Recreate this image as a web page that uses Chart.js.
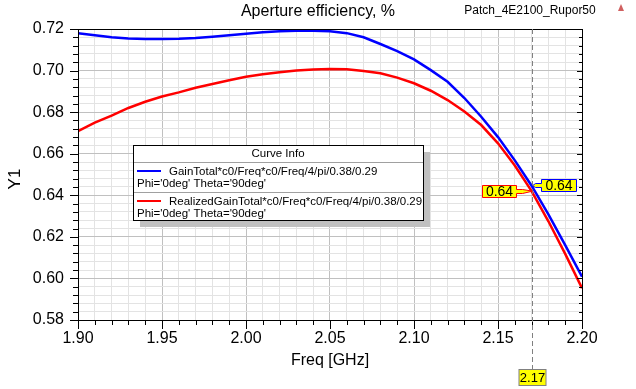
<!DOCTYPE html>
<html>
<head>
<meta charset="utf-8">
<script src="https://cdn.jsdelivr.net/npm/chart.js@4/dist/chart.umd.min.js"></script>
<style>
  html, body { margin: 0; padding: 0; background: #fff; }
  #wrap { width: 636px; height: 389px; position: relative; }
</style>
</head>
<body>
<div id="wrap"><canvas id="effChart" width="636" height="389"></canvas></div>
<script>
// frequency points, GHz
const freqs = [1.90, 1.91, 1.92, 1.93, 1.94, 1.95, 1.96, 1.97, 1.98, 1.99,
               2.00, 2.01, 2.02, 2.03, 2.04, 2.05, 2.06, 2.07, 2.08, 2.09,
               2.10, 2.11, 2.12, 2.13, 2.14, 2.15, 2.16, 2.17, 2.18, 2.19, 2.20];

// GainTotal based efficiency (blue)
const gainTotal = [0.7180, 0.7170, 0.7160, 0.7154, 0.7152, 0.7152, 0.7153, 0.7157, 0.7163, 0.7170,
                   0.7177, 0.7184, 0.7189, 0.7192, 0.7192, 0.7189, 0.7180, 0.7160, 0.7128, 0.7094,
                   0.7054, 0.7002, 0.6946, 0.6868, 0.6778, 0.6680, 0.6568, 0.6446, 0.6308, 0.6160, 0.6008];

// RealizedGainTotal based efficiency (red)
const realizedGain = [0.6709, 0.6750, 0.6783, 0.6820, 0.6850, 0.6875, 0.6895, 0.6917, 0.6935, 0.6953,
                      0.6970, 0.6982, 0.6992, 0.7000, 0.7005, 0.7007, 0.7006, 0.6998, 0.6987, 0.6966,
                      0.6939, 0.6903, 0.6858, 0.6803, 0.6738, 0.6650, 0.6543, 0.6420, 0.6275, 0.6118, 0.5953];

const xTicksMajor = [1.90, 1.95, 2.00, 2.05, 2.10, 2.15, 2.20];
const yTicksMajor = [0.58, 0.60, 0.62, 0.64, 0.66, 0.68, 0.70, 0.72];
const markerFreq = 2.17;

const FONT = '"Liberation Sans", Arial, sans-serif';

function isMajor(v, list) {
  return list.some(m => Math.abs(m - v) < 1e-6);
}

function toPoints(ys) {
  return freqs.map((f, i) => ({ x: f, y: ys[i] }));
}

// axis frame, tick marks, titles, legend box, markers
const decorPlugin = {
  id: 'decor',
  afterDraw(chart) {
    const c = chart.ctx;
    const a = chart.chartArea;
    const xs = chart.scales.x, ys = chart.scales.y;
    c.save();

    // frame
    c.strokeStyle = '#000';
    c.lineWidth = 1;
    c.strokeRect(a.left + 0.5, a.top + 0.5, a.right - a.left, a.bottom - a.top);

    // tick marks
    c.beginPath();
    xs.ticks.forEach(t => {
      const px = Math.round(xs.getPixelForValue(t.value)) + 0.5;
      const len = isMajor(t.value, xTicksMajor) ? 9 : 5;
      c.moveTo(px, a.bottom); c.lineTo(px, a.bottom + len);
    });
    ys.ticks.forEach(t => {
      const py = Math.round(ys.getPixelForValue(t.value)) + 0.5;
      const maj = isMajor(t.value, yTicksMajor);
      c.moveTo(a.left, py); c.lineTo(a.left - (maj ? 8 : 5), py);
      c.moveTo(a.right, py); c.lineTo(a.right - (maj ? 5 : 3), py);
    });
    c.stroke();

    // chart title and project name
    c.fillStyle = '#000';
    c.textBaseline = 'middle';
    c.textAlign = 'center';
    c.font = '16px ' + FONT;
    c.fillText('Aperture efficiency, %', 318, 12);
    c.font = '12px ' + FONT;
    c.fillText('Patch_4E2100_Rupor50', 530, 11);
    // small logo glyph
    c.fillStyle = '#d06060';
    c.beginPath();
    c.moveTo(621, 4); c.lineTo(618, 11); c.lineTo(624, 11); c.closePath();
    c.fill();

    // axis titles
    c.fillStyle = '#000';
    c.font = '16px ' + FONT;
    c.fillText('Freq [GHz]', (a.left + a.right) / 2, 361);
    c.save();
    c.translate(15, 179);
    c.rotate(-Math.PI / 2);
    c.font = '17px ' + FONT;
    c.fillText('Y1', 0, 0);
    c.restore();

    // marker line at 2.17
    const mx = Math.round(xs.getPixelForValue(markerFreq)) + 0.5;
    c.strokeStyle = '#808080';
    c.setLineDash([5, 3]);
    c.beginPath();
    c.moveTo(mx, a.top); c.lineTo(mx, 369);
    c.stroke();
    c.setLineDash([]);

    // x marker label
    c.fillStyle = '#ffff00';
    c.fillRect(mx - 13.5, 369, 27, 17);
    c.strokeStyle = '#808080';
    c.strokeRect(mx - 13.5, 369.5, 27, 16);
    c.fillStyle = '#000';
    c.font = '13px ' + FONT;
    c.fillText('2.17', mx, 378);

    // y marker labels
    const idx = freqs.findIndex(f => Math.abs(f - markerFreq) < 1e-6);
    const pb = { x: mx, y: ys.getPixelForValue(gainTotal[idx]) };
    const pr = { x: mx, y: ys.getPixelForValue(realizedGain[idx]) };

    function tag(p, text, color, bx, by, w, h, side) {
      c.strokeStyle = color;
      c.fillStyle = '#ffff00';
      c.lineWidth = 1;
      c.beginPath();
      if (side === 'right') {
        // box is to the right of the point
        c.moveTo(bx, by); c.lineTo(bx + w, by); c.lineTo(bx + w, by + h); c.lineTo(bx, by + h);
        c.lineTo(bx, by + h / 2 + 2); c.lineTo(bx - 6, by + h / 2 + 2); c.lineTo(p.x, p.y);
        c.lineTo(bx - 6, by + h / 2 - 2); c.lineTo(bx, by + h / 2 - 2); c.closePath();
      } else {
        c.moveTo(bx + w, by); c.lineTo(bx, by); c.lineTo(bx, by + h); c.lineTo(bx + w, by + h);
        c.lineTo(bx + w, by + h / 2 + 2); c.lineTo(bx + w + 6, by + h / 2 + 2); c.lineTo(p.x, p.y);
        c.lineTo(bx + w + 6, by + h / 2 - 2); c.lineTo(bx + w, by + h / 2 - 2); c.closePath();
      }
      c.fill();
      c.stroke();
      c.fillStyle = '#000';
      c.font = '14px ' + FONT;
      c.textAlign = 'center';
      c.fillText(text, bx + w / 2, by + h / 2 + 1);
    }
    tag(pr, realizedGain[idx].toFixed(2), '#ff0000', 482.5, 185.5, 34, 12, 'left');
    tag(pb, gainTotal[idx].toFixed(2), '#0000ff', 541.5, 179.5, 35, 12, 'right');

    // curve info box
    const lx = 133, ly = 145, lw = 290, lh = 75;
    c.fillStyle = '#c0c0c0';
    c.fillRect(lx + 7, ly + 7, lw, lh);
    c.fillStyle = '#fff';
    c.fillRect(lx, ly, lw, lh);
    c.strokeStyle = '#000';
    c.strokeRect(lx + 0.5, ly + 0.5, lw, lh);
    c.strokeStyle = '#a0a0a0';
    c.beginPath();
    c.moveTo(lx + 1, ly + 17.5); c.lineTo(lx + lw, ly + 17.5);
    c.moveTo(lx + 1, ly + 47.5); c.lineTo(lx + lw, ly + 47.5);
    c.stroke();

    c.fillStyle = '#000';
    c.font = '11.5px ' + FONT;
    c.textAlign = 'center';
    c.fillText('Curve Info', lx + lw / 2, ly + 9);
    c.textAlign = 'left';
    const entries = [
      { color: '#0000ff', name: 'GainTotal*c0/Freq*c0/Freq/4/pi/0.38/0.29', y: ly + 26 },
      { color: '#ff0000', name: 'RealizedGainTotal*c0/Freq*c0/Freq/4/pi/0.38/0.29', y: ly + 56 }
    ];
    entries.forEach(e => {
      c.strokeStyle = e.color;
      c.lineWidth = 2;
      c.beginPath();
      c.moveTo(lx + 4, e.y); c.lineTo(lx + 28, e.y);
      c.stroke();
      c.fillStyle = '#000';
      c.fillText(e.name, lx + 36, e.y + 1);
      c.fillText("Phi='0deg' Theta='90deg'", lx + 4, e.y + 13);
    });

    c.restore();
  }
};

const ctx = document.getElementById('effChart').getContext('2d');
const effChart = new Chart(ctx, {
  type: 'line',
  data: {
    datasets: [
      { label: 'GainTotal', data: toPoints(gainTotal), borderColor: '#0000ff', borderWidth: 2.5,
        pointRadius: 0, tension: 0, fill: false },
      { label: 'RealizedGainTotal', data: toPoints(realizedGain), borderColor: '#ff0000', borderWidth: 2.5,
        pointRadius: 0, tension: 0, fill: false }
    ]
  },
  options: {
    responsive: false,
    animation: false,
    layout: { padding: { top: 29, right: 54, left: 0, bottom: 0 } },
    plugins: { legend: { display: false }, title: { display: false }, tooltip: { enabled: false } },
    scales: {
      x: {
        type: 'linear', min: 1.9, max: 2.2,
        afterFit(s) { s.height = 69; },
        ticks: {
          stepSize: 0.01, autoSkip: false, maxRotation: 0, padding: 9,
          color: '#000', font: { family: FONT, size: 16 },
          callback: v => isMajor(v, xTicksMajor) ? v.toFixed(2) : ''
        },
        grid: {
          drawTicks: false,
          color: t => isMajor(t.tick.value, xTicksMajor) ? '#c0c0c0' : '#e3e3e3'
        },
        border: { display: false }
      },
      y: {
        type: 'linear', min: 0.58, max: 0.72,
        afterFit(s) { s.width = 78; },
        ticks: {
          stepSize: 0.004, autoSkip: false, padding: 14,
          color: '#000', font: { family: FONT, size: 16 },
          callback: v => isMajor(v, yTicksMajor) ? v.toFixed(2) : ''
        },
        grid: {
          drawTicks: false,
          color: t => isMajor(t.tick.value, yTicksMajor) ? '#c0c0c0' : '#e3e3e3'
        },
        border: { display: false }
      }
    }
  },
  plugins: [decorPlugin]
});
</script>
</body>
</html>
